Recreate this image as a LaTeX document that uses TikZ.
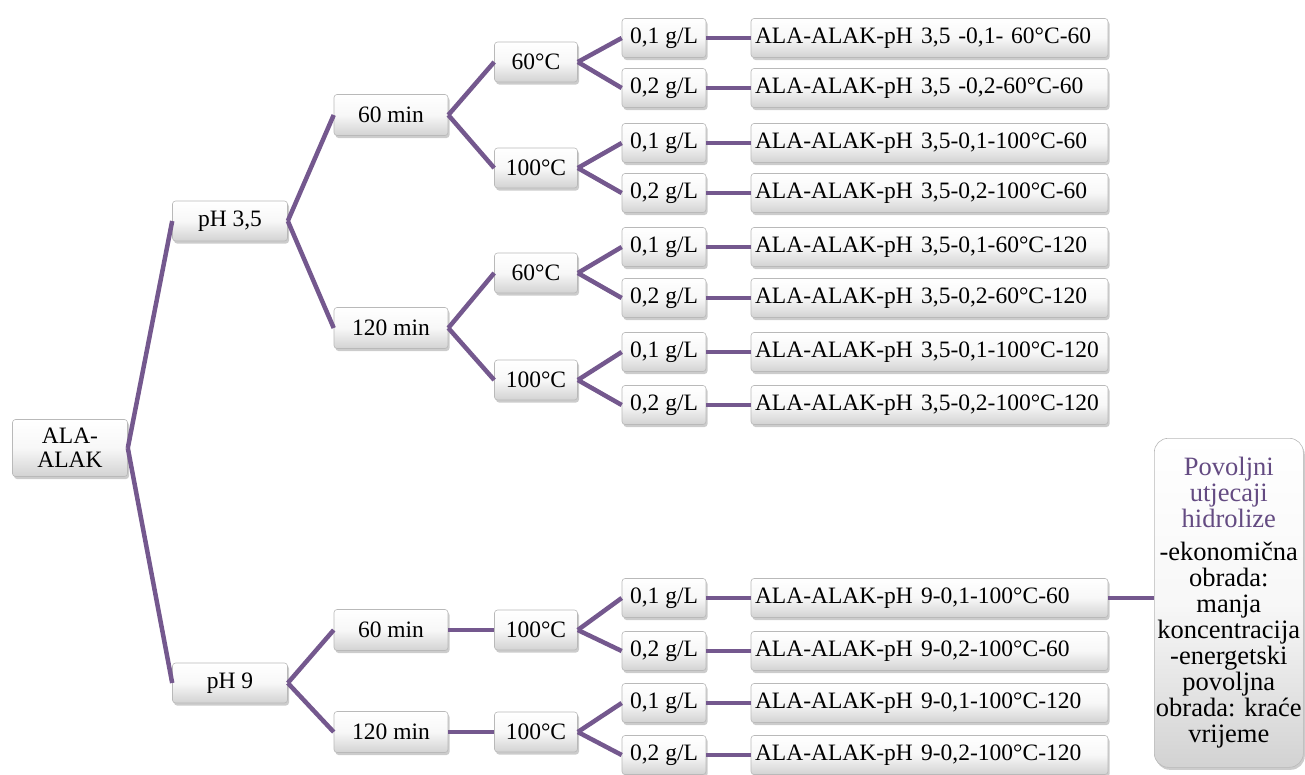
\documentclass[tikz,border=0pt]{standalone}
\usepackage{fontspec}
\setmainfont{Liberation Serif}
\usetikzlibrary{shadows}
\definecolor{lin}{RGB}{116,88,142}
\definecolor{ptxt}{RGB}{100,75,130}
\tikzset{
  box/.style={draw=gray!55, line width=0.6pt, rounded corners=3pt,
    top color=white, bottom color=gray!35, middle color=gray!6,
    drop shadow={opacity=0.4, shadow xshift=1.5pt, shadow yshift=-2.5pt},
    font=\fontsize{23.5}{26}\selectfont, inner sep=0pt, align=center},
  bA/.style={box, minimum width=115pt, minimum height=40pt},
  bT/.style={box, minimum width=114pt, minimum height=41pt},
  bC/.style={box, minimum width=83pt, minimum height=40pt},
  bG/.style={box, minimum width=84pt, minimum height=39pt},
  bR/.style={box, text width=349pt, inner xsep=4pt, minimum height=39pt, align=left},
  conn/.style={draw=lin, line width=4.5pt},
}
\newcommand{\phsp}{\hspace{0.35em}}
\begin{document}
\frenchspacing
\begin{tikzpicture}[x=1pt,y=-1pt]
\useasboundingbox (0,0) rectangle (1305,774);
% root
\node[box, minimum width=115pt, minimum height=57pt, font=\fontsize{23.5}{24}\selectfont] (root) at (70,448) {ALA-\\ALAK};
\node[bA] (p35) at (230,221) {pH 3,5};
\node[bA] (p9) at (230,683) {pH 9};
% time
\node[bT] (t60a) at (391,115) {60 min};
\node[bT] (t120a) at (391,328) {120 min};
\node[bT] (t60b) at (391,630) {60 min};
\node[bT] (t120b) at (391,732) {120 min};
% temperature
\node[bC] (c60a) at (536,62) {60°C};
\node[bC] (c100a) at (536,168) {100°C};
\node[bC] (c60b) at (536,273) {60°C};
\node[bC] (c100b) at (536,380) {100°C};
\node[bC] (c100c) at (536,630) {100°C};
\node[bC] (c100d) at (536,732) {100°C};
% concentration
\node[bG] (g1) at (664,38) {0,1 g/L};
\node[bG] (g2) at (664,88) {0,2 g/L};
\node[bG] (g3) at (664,143) {0,1 g/L};
\node[bG] (g4) at (664,193) {0,2 g/L};
\node[bG] (g5) at (664,247) {0,1 g/L};
\node[bG] (g6) at (664,298) {0,2 g/L};
\node[bG] (g7) at (664,352) {0,1 g/L};
\node[bG] (g8) at (664,405) {0,2 g/L};
\node[bG] (g9) at (664,598) {0,1 g/L};
\node[bG] (g10) at (664,651) {0,2 g/L};
\node[bG] (g11) at (664,703) {0,1 g/L};
\node[bG] (g12) at (664,755) {0,2 g/L};
% results
\node[bR] (r1) at (929.5,38) {ALA-ALAK-pH\phsp 3,5 -0,1- 60°C-60};
\node[bR] (r2) at (929.5,88) {ALA-ALAK-pH\phsp 3,5 -0,2-60°C-60};
\node[bR] (r3) at (929.5,143) {ALA-ALAK-pH\phsp 3,5-0,1-100°C-60};
\node[bR] (r4) at (929.5,193) {ALA-ALAK-pH\phsp 3,5-0,2-100°C-60};
\node[bR] (r5) at (929.5,247) {ALA-ALAK-pH\phsp 3,5-0,1-60°C-120};
\node[bR] (r6) at (929.5,298) {ALA-ALAK-pH\phsp 3,5-0,2-60°C-120};
\node[bR] (r7) at (929.5,352) {ALA-ALAK-pH\phsp 3,5-0,1-100°C-120};
\node[bR] (r8) at (929.5,405) {ALA-ALAK-pH\phsp 3,5-0,2-100°C-120};
\node[bR] (r9) at (929.5,598) {ALA-ALAK-pH\phsp 9-0,1-100°C-60};
\node[bR] (r10) at (929.5,651) {ALA-ALAK-pH\phsp 9-0,2-100°C-60};
\node[bR] (r11) at (929.5,703) {ALA-ALAK-pH\phsp 9-0,1-100°C-120};
\node[bR] (r12) at (929.5,755) {ALA-ALAK-pH\phsp 9-0,2-100°C-120};
% favourable effects box
\node[box, rounded corners=14pt, minimum width=149pt, minimum height=329pt, text width=149pt,
  font=\fontsize{26.5}{26}\selectfont, anchor=north west] (fav) at (1154,438)
  {\textcolor{ptxt}{Povoljni\\utjecaji\\hidrolize}\\[7pt]
   -ekonomična\\obrada:\\manja\\koncentracija\\-energetski\\povoljna\\obrada: kraće\\vrijeme};
% connectors
\foreach \a/\b in {root/p35, root/p9,
  p35/t60a, p35/t120a, p9/t60b, p9/t120b,
  t60a/c60a, t60a/c100a, t120a/c60b, t120a/c100b, t60b/c100c, t120b/c100d,
  c60a/g1, c60a/g2, c100a/g3, c100a/g4, c60b/g5, c60b/g6, c100b/g7, c100b/g8,
  c100c/g9, c100c/g10, c100d/g11, c100d/g12,
  g1/r1, g2/r2, g3/r3, g4/r4, g5/r5, g6/r6, g7/r7, g8/r8, g9/r9, g10/r10, g11/r11, g12/r12}
  \draw[conn] (\a.east) -- (\b.west);
\draw[conn] (r9.east) -- (fav.west |- r9.east);
\end{tikzpicture}
\end{document}
